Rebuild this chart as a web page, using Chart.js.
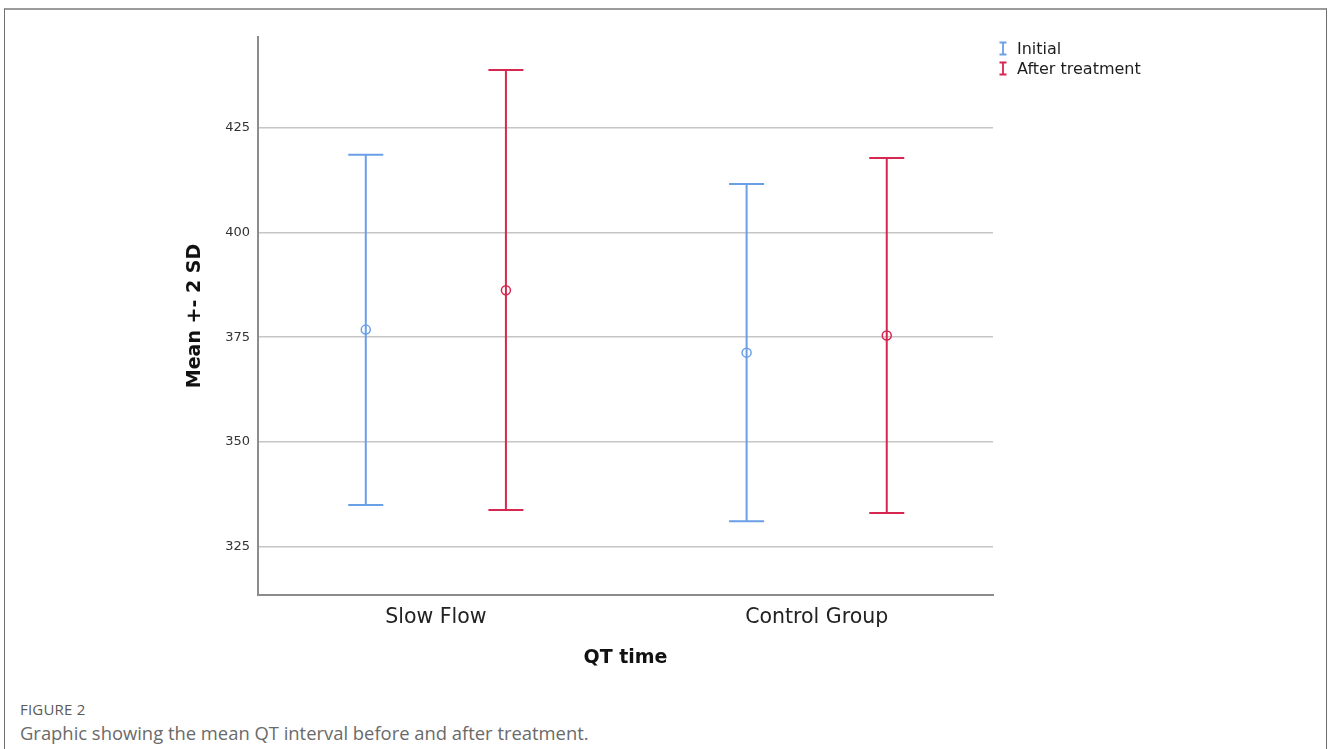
<!DOCTYPE html>
<html>
<head>
<meta charset="utf-8">
<title>QT time</title>
<script src="https://cdn.jsdelivr.net/npm/chart.js@4/dist/chart.umd.min.js"></script>
<style>
  html, body { margin: 0; padding: 0; background: #fff; }
  body { width: 1328px; height: 749px; position: relative; overflow: hidden; font-family: "Open Sans", sans-serif; }
  #frame {
    position: absolute; left: 4px; top: 8px; width: 1321px; height: 760px;
    border-top: 2px solid #9b9b9b; border-left: 1.5px solid #6e6e6e; border-right: 1.5px solid #6e6e6e;
  }
  #wrap { position: absolute; left: 0; top: 0; width: 1328px; height: 680px; }
  #caption { position: absolute; left: 20px; top: 699px; color: #666; }
  #caption .fig { font-size: 15px; letter-spacing: 0.2px; color: #5a5a5a; line-height: 21px; }
  #caption .txt { font-size: 18.4px; line-height: 25px; color: #6a6a6a; }
</style>
</head>
<body>
<div id="frame"></div>
<div id="wrap"><canvas id="qtChart" width="1328" height="680"></canvas></div>
<div id="caption">
  <div class="fig">FIGURE 2</div>
  <div class="txt">Graphic showing the mean QT interval before and after treatment.</div>
</div>
<script>
// QT time – mean +- 2 SD per group, before / after treatment

const groups = ['Slow Flow', 'Control Group'];
const seriesNames = ['Initial', 'After treatment'];
const seriesColors = ['#6a9fe6', '#d7264f'];

const initialMean = [376.8, 371.3];
const initialLow = [334.9, 331.0];
const initialHigh = [418.6, 411.6];

const afterMean = [386.2, 375.4];
const afterLow = [333.7, 333.0];
const afterHigh = [438.8, 417.8];

const yTicks = [325, 350, 375, 400, 425];

const FONT = '"DejaVu Sans", sans-serif';
const SHIFT = 0.184; // side offset of each series inside a group

function buildDataset(idx, means, lows, highs) {
    const side = idx === 0 ? -SHIFT : SHIFT;
    return {
        label: seriesNames[idx],
        data: means.map((m, i) => ({ x: i + 1 + side, y: m, low: lows[i], high: highs[i] })),
        borderColor: seriesColors[idx],
        backgroundColor: 'rgba(0,0,0,0)',
        pointRadius: 4.5,
        pointBorderWidth: 1.5,
        pointStyle: 'circle',
        showLine: false
    };
}

// vertical bar + caps for each point
const errorBars = {
    id: 'errorBars',
    beforeDatasetsDraw(chart) {
        const { ctx, scales: { x, y } } = chart;
        chart.data.datasets.forEach(ds => {
            ctx.save();
            ctx.strokeStyle = ds.borderColor;
            ctx.lineWidth = 2;
            ds.data.forEach(p => {
                const px = x.getPixelForValue(p.x);
                const yl = y.getPixelForValue(p.low);
                const yh = y.getPixelForValue(p.high);
                ctx.beginPath();
                ctx.moveTo(px, yl); ctx.lineTo(px, yh);
                ctx.moveTo(px - 17.5, yl); ctx.lineTo(px + 17.5, yl);
                ctx.moveTo(px - 17.5, yh); ctx.lineTo(px + 17.5, yh);
                ctx.stroke();
            });
            ctx.restore();
        });
    }
};

// legend top-right with I-beam icons
const beamLegend = {
    id: 'beamLegend',
    afterDraw(chart) {
        const { ctx, chartArea } = chart;
        const x0 = chartArea.right + 10;
        chart.data.datasets.forEach((ds, i) => {
            const cy = 48.5 + i * 20;
            ctx.save();
            ctx.strokeStyle = ds.borderColor;
            ctx.lineWidth = 1.8;
            ctx.beginPath();
            ctx.moveTo(x0, cy - 6); ctx.lineTo(x0, cy + 6);
            ctx.moveTo(x0 - 3.5, cy - 6); ctx.lineTo(x0 + 3.5, cy - 6);
            ctx.moveTo(x0 - 3.5, cy + 6); ctx.lineTo(x0 + 3.5, cy + 6);
            ctx.stroke();
            ctx.fillStyle = '#1e1e1e';
            ctx.font = '16px ' + FONT;
            ctx.textBaseline = 'middle';
            ctx.textAlign = 'left';
            ctx.fillText(ds.label, x0 + 14, cy + 1);
            ctx.restore();
        });
    }
};

window.addEventListener('DOMContentLoaded', () => {
    const ctx = document.getElementById('qtChart').getContext('2d');
    new Chart(ctx, {
        type: 'scatter',
        data: {
            datasets: [
                buildDataset(0, initialMean, initialLow, initialHigh),
                buildDataset(1, afterMean, afterLow, afterHigh)
            ]
        },
        options: {
            responsive: false,
            animation: false,
            events: [],
            layout: { padding: { left: 180, top: 37, right: 335, bottom: 6 } },
            plugins: { legend: { display: false }, tooltip: { enabled: false } },
            scales: {
                x: {
                    type: 'linear',
                    min: 0.533,
                    max: 2.463,
                    afterFit: s => { s.height = 79; },
                    afterBuildTicks: s => { s.ticks = groups.map((g, i) => ({ value: i + 1 })); },
                    grid: { drawOnChartArea: false, drawTicks: false },
                    border: { display: true, color: '#8c8c8c', width: 2 },
                    ticks: {
                        padding: 10,
                        color: '#222',
                        font: { family: FONT, size: 20.5 },
                        callback: v => groups[Math.round(v) - 1]
                    },
                    title: {
                        display: true,
                        text: 'QT time',
                        color: '#111',
                        font: { family: FONT, size: 19, weight: 'bold' },
                        padding: { top: 4, bottom: 5 }
                    }
                },
                y: {
                    min: 313.4,
                    max: 446.7,
                    afterFit: s => { s.width = 78; },
                    afterBuildTicks: s => { s.ticks = yTicks.map(v => ({ value: v })); },
                    grid: { color: '#c6c6c6', lineWidth: 1.5, drawTicks: false },
                    border: { display: true, color: '#8c8c8c', width: 2 },
                    ticks: {
                        padding: 8,
                        color: '#333',
                        font: { family: FONT, size: 13 }
                    },
                    title: {
                        display: true,
                        text: 'Mean +- 2 SD',
                        color: '#111',
                        font: { family: FONT, size: 19, weight: 'bold' },
                        padding: { top: 4, bottom: 4 }
                    }
                }
            }
        },
        plugins: [errorBars, beamLegend]
    });
});
</script>
</body>
</html>
